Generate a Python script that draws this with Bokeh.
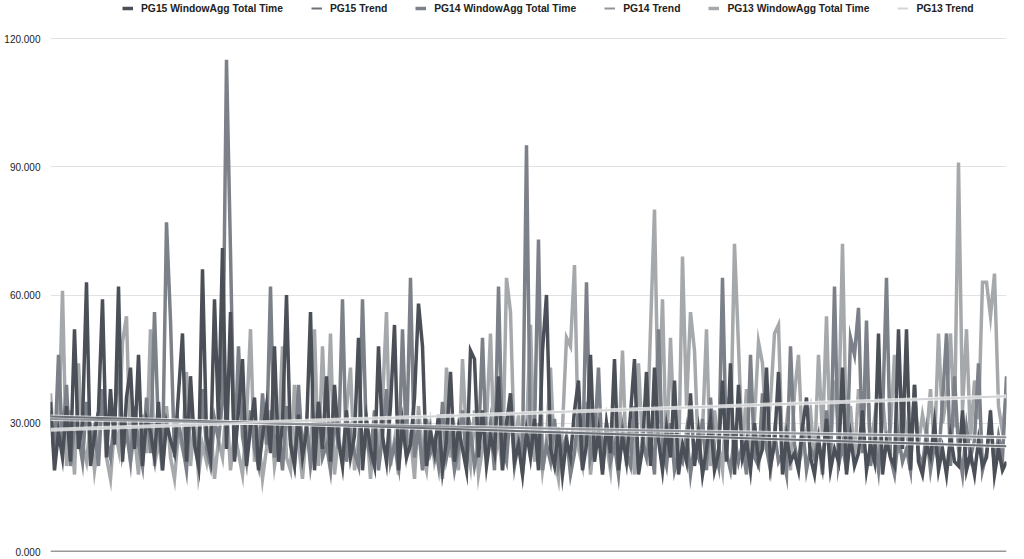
from bokeh.plotting import figure
from bokeh.models import (Range1d, FixedTicker, NumeralTickFormatter, Span,
                          Legend, LegendItem)
from bokeh.embed import file_html
from bokeh.resources import INLINE

series_names = ["PG15 WindowAgg Total Time", "PG14 WindowAgg Total Time", "PG13 WindowAgg Total Time"]
trend_names = ["PG15 Trend", "PG14 Trend", "PG13 Trend"]
y_ticks = [0, 30, 60, 90, 120]

pg15 = [35, 19, 28, 22, 34, 21, 52, 24, 30, 63, 20, 27, 33, 59, 22, 38, 25, 62, 21, 36,
        43, 24, 46, 20, 31, 28, 22, 35, 19, 30, 26, 23, 37, 51, 21, 41, 25, 20, 66, 27,
        22, 59, 30, 71, 24, 56, 21, 33, 45, 20, 29, 36, 19, 27, 34, 23, 48, 21, 30, 60,
        25, 20, 32, 22, 28, 56, 19, 35, 24, 41, 21, 39, 26, 20, 33, 22, 27, 50, 19, 31,
        24, 20, 48, 27, 21, 34, 53, 19, 30, 22, 25, 36, 58, 48, 20, 28, 23, 32, 19, 26,
        42, 21, 29, 24, 19, 47, 45, 22, 33, 20, 27, 23, 41, 19, 30, 37, 21, 25, 18, 28,
        22, 31, 19, 47, 60, 24, 20, 29, 18, 26, 22, 33, 40, 19, 25, 46, 21, 28, 18, 30,
        23, 45, 19, 27, 21, 32, 45, 18, 24, 42, 20, 43, 26, 19, 29, 22, 40, 18, 25, 21,
        37, 20, 28, 18, 24, 31, 19, 23, 40, 21, 44, 18, 39, 22, 26, 19, 30, 21, 24, 43,
        20, 25, 42, 18, 27, 21, 23, 19, 29, 36, 22, 18, 26, 20, 31, 19, 24, 21, 43, 18,
        27, 20, 23, 33, 19, 25, 21, 51, 18, 26, 22, 20, 52, 24, 52, 19, 39, 21, 18, 25,
        22, 30, 19, 24, 18, 27, 21, 20, 33, 19, 23, 18, 26, 20, 22, 33, 18, 24, 19, 21]

pg14 = [33, 22, 46, 25, 39, 20, 30, 27, 21, 35, 24, 29, 20, 38, 26, 22, 31, 44, 23, 28,
        21, 34, 25, 20, 36, 23, 56, 28, 21, 77, 54, 22, 30, 25, 19, 33, 27, 22, 38, 24,
        20, 31, 26, 35, 115, 70, 22, 48, 27, 21, 33, 24, 20, 37, 25, 62, 22, 29, 19, 34,
        26, 21, 39, 23, 30, 20, 27, 35, 22, 25, 19, 32, 24, 59, 21, 28, 23, 20, 59, 26,
        22, 33, 19, 27, 38, 21, 25, 20, 52, 24, 64, 22, 29, 19, 31, 23, 26, 20, 35, 22,
        27, 19, 24, 33, 21, 28, 20, 25, 50, 22, 30, 19, 62, 24, 21, 34, 20, 26, 23, 95,
        22, 28, 73, 19, 25, 21, 31, 20, 24, 27, 18, 23, 33, 20, 63, 22, 26, 43, 19, 30,
        21, 25, 18, 29, 23, 20, 34, 19, 26, 22, 27, 18, 52, 24, 20, 30, 19, 23, 21, 28,
        18, 25, 22, 31, 19, 36, 24, 20, 64, 23, 19, 27, 21, 25, 18, 46, 22, 20, 37, 24,
        19, 28, 21, 23, 18, 48, 25, 20, 30, 19, 24, 22, 27, 18, 33, 21, 62, 20, 25, 19,
        50, 46, 57, 23, 54, 20, 26, 19, 31, 64, 22, 18, 27, 21, 24, 19, 39, 23, 20, 28,
        19, 25, 21, 35, 51, 20, 41, 24, 18, 29, 22, 26, 44, 19, 23, 30, 20, 27, 22, 41]

pg13 = [37, 22, 27, 61, 20, 33, 18, 44, 25, 21, 30, 19, 26, 38, 22, 17, 29, 24, 49, 55,
        21, 27, 18, 32, 23, 52, 20, 26, 19, 34, 22, 17, 28, 24, 42, 20, 31, 18, 25, 21,
        30, 17, 26, 22, 35, 19, 28, 23, 18, 31, 52, 21, 27, 17, 24, 33, 20, 26, 48, 22,
        19, 39, 25, 17, 29, 22, 52, 20, 48, 24, 51, 18, 27, 21, 33, 43, 19, 26, 22, 30,
        17, 28, 24, 35, 56, 20, 26, 18, 31, 22, 27, 17, 34, 23, 19, 29, 21, 25, 17, 43,
        22, 28, 19, 45, 26, 20, 33, 18, 24, 30, 51, 21, 27, 19, 64, 56, 23, 32, 18, 28,
        53, 21, 30, 19, 26, 43, 22, 17, 29, 50, 48, 67, 24, 20, 35, 18, 27, 31, 21, 25,
        19, 33, 23, 47, 20, 28, 18, 44, 25, 22, 52, 80, 30, 59, 21, 50, 26, 19, 69, 34,
        56, 47, 22, 28, 52, 20, 33, 25, 19, 36, 27, 72, 48, 23, 38, 20, 31, 49, 44, 26,
        35, 51, 53, 22, 30, 19, 37, 46, 24, 28, 33, 21, 46, 27, 55, 23, 40, 29, 72, 25,
        34, 21, 38, 27, 44, 24, 31, 20, 36, 26, 29, 46, 23, 35, 28, 21, 37, 25, 32, 27,
        38, 24, 51, 30, 36, 51, 29, 91, 33, 52, 26, 40, 31, 63, 63, 55, 65, 34, 28, 37]

# trend line endpoints (first run, last run)
pg15_trend = [31.6, 24.6]
pg14_trend = [31.0, 26.7]
pg13_trend = [28.5, 36.3]

n = len(pg15)
runs = list(range(n))
trend_x = [0, n - 1]

FONT = "Liberation Sans"
W, H = 1008, 558
TOP, BOTTOM = 0, 7
FRAME_H = H - TOP - BOTTOM

p = figure(width=W, height=H, output_backend="svg", toolbar_location=None,
           x_axis_type=None, x_range=Range1d(0, n - 1),
           y_range=Range1d(0, 120 * FRAME_H / 513.0),
           min_border_left=50, min_border_right=2,
           min_border_top=TOP, min_border_bottom=BOTTOM)
p.outline_line_color = None
p.background_fill_color = "white"
p.border_fill_color = "white"

ax = p.yaxis[0]
ax.ticker = FixedTicker(ticks=y_ticks)
ax.formatter = NumeralTickFormatter(format="0.000")
ax.axis_line_color = None
ax.major_tick_line_color = None
ax.minor_tick_line_color = None
ax.major_tick_out = 0
ax.major_tick_in = 0
ax.major_label_text_font = FONT
ax.major_label_text_font_size = "10px"
ax.major_label_text_color = "#222222"
ax.major_label_standoff = 10
p.ygrid.ticker = FixedTicker(ticks=[30, 60, 90, 120])
p.ygrid.grid_line_color = "#e2e2e2"
p.ygrid.grid_line_width = 1
p.xgrid.grid_line_color = None

p.add_layout(Span(location=0, dimension="width", line_color="#333333", line_width=1.5))

colors = ["#4b4f57", "#7c8088", "#a6a9ac"]
tcolors = ["#6c7077", "#90949a", "#d2d4d6"]

r13 = p.line(runs, pg13, line_color=colors[2], line_width=3.5, line_join="miter")
r14 = p.line(runs, pg14, line_color=colors[1], line_width=3.5, line_join="miter")
r15 = p.line(runs, pg15, line_color=colors[0], line_width=3.5, line_join="miter")

for tr in (pg15_trend, pg14_trend, pg13_trend):
    p.line(trend_x, tr, line_color="white", line_width=4, line_alpha=0.7)
t15 = p.line(trend_x, pg15_trend, line_color=tcolors[0], line_width=2)
t14 = p.line(trend_x, pg14_trend, line_color=tcolors[1], line_width=2)
t13 = p.line(trend_x, pg13_trend, line_color=tcolors[2], line_width=2)

items = [LegendItem(label=series_names[0], renderers=[r15]),
         LegendItem(label=trend_names[0], renderers=[t15]),
         LegendItem(label=series_names[1], renderers=[r14]),
         LegendItem(label=trend_names[1], renderers=[t14]),
         LegendItem(label=series_names[2], renderers=[r13]),
         LegendItem(label=trend_names[2], renderers=[t13])]
legend = Legend(items=items, orientation="horizontal", location=(72, FRAME_H - 15),
                padding=0, margin=0, spacing=28, glyph_width=11, glyph_height=14,
                label_standoff=8, label_height=14,
                label_text_font=FONT, label_text_font_size="10.3px",
                label_text_font_style="bold", label_text_color="#222222",
                border_line_color=None, background_fill_alpha=0)
p.add_layout(legend, "center")

open("out.html", "w").write(file_html(p, INLINE))
